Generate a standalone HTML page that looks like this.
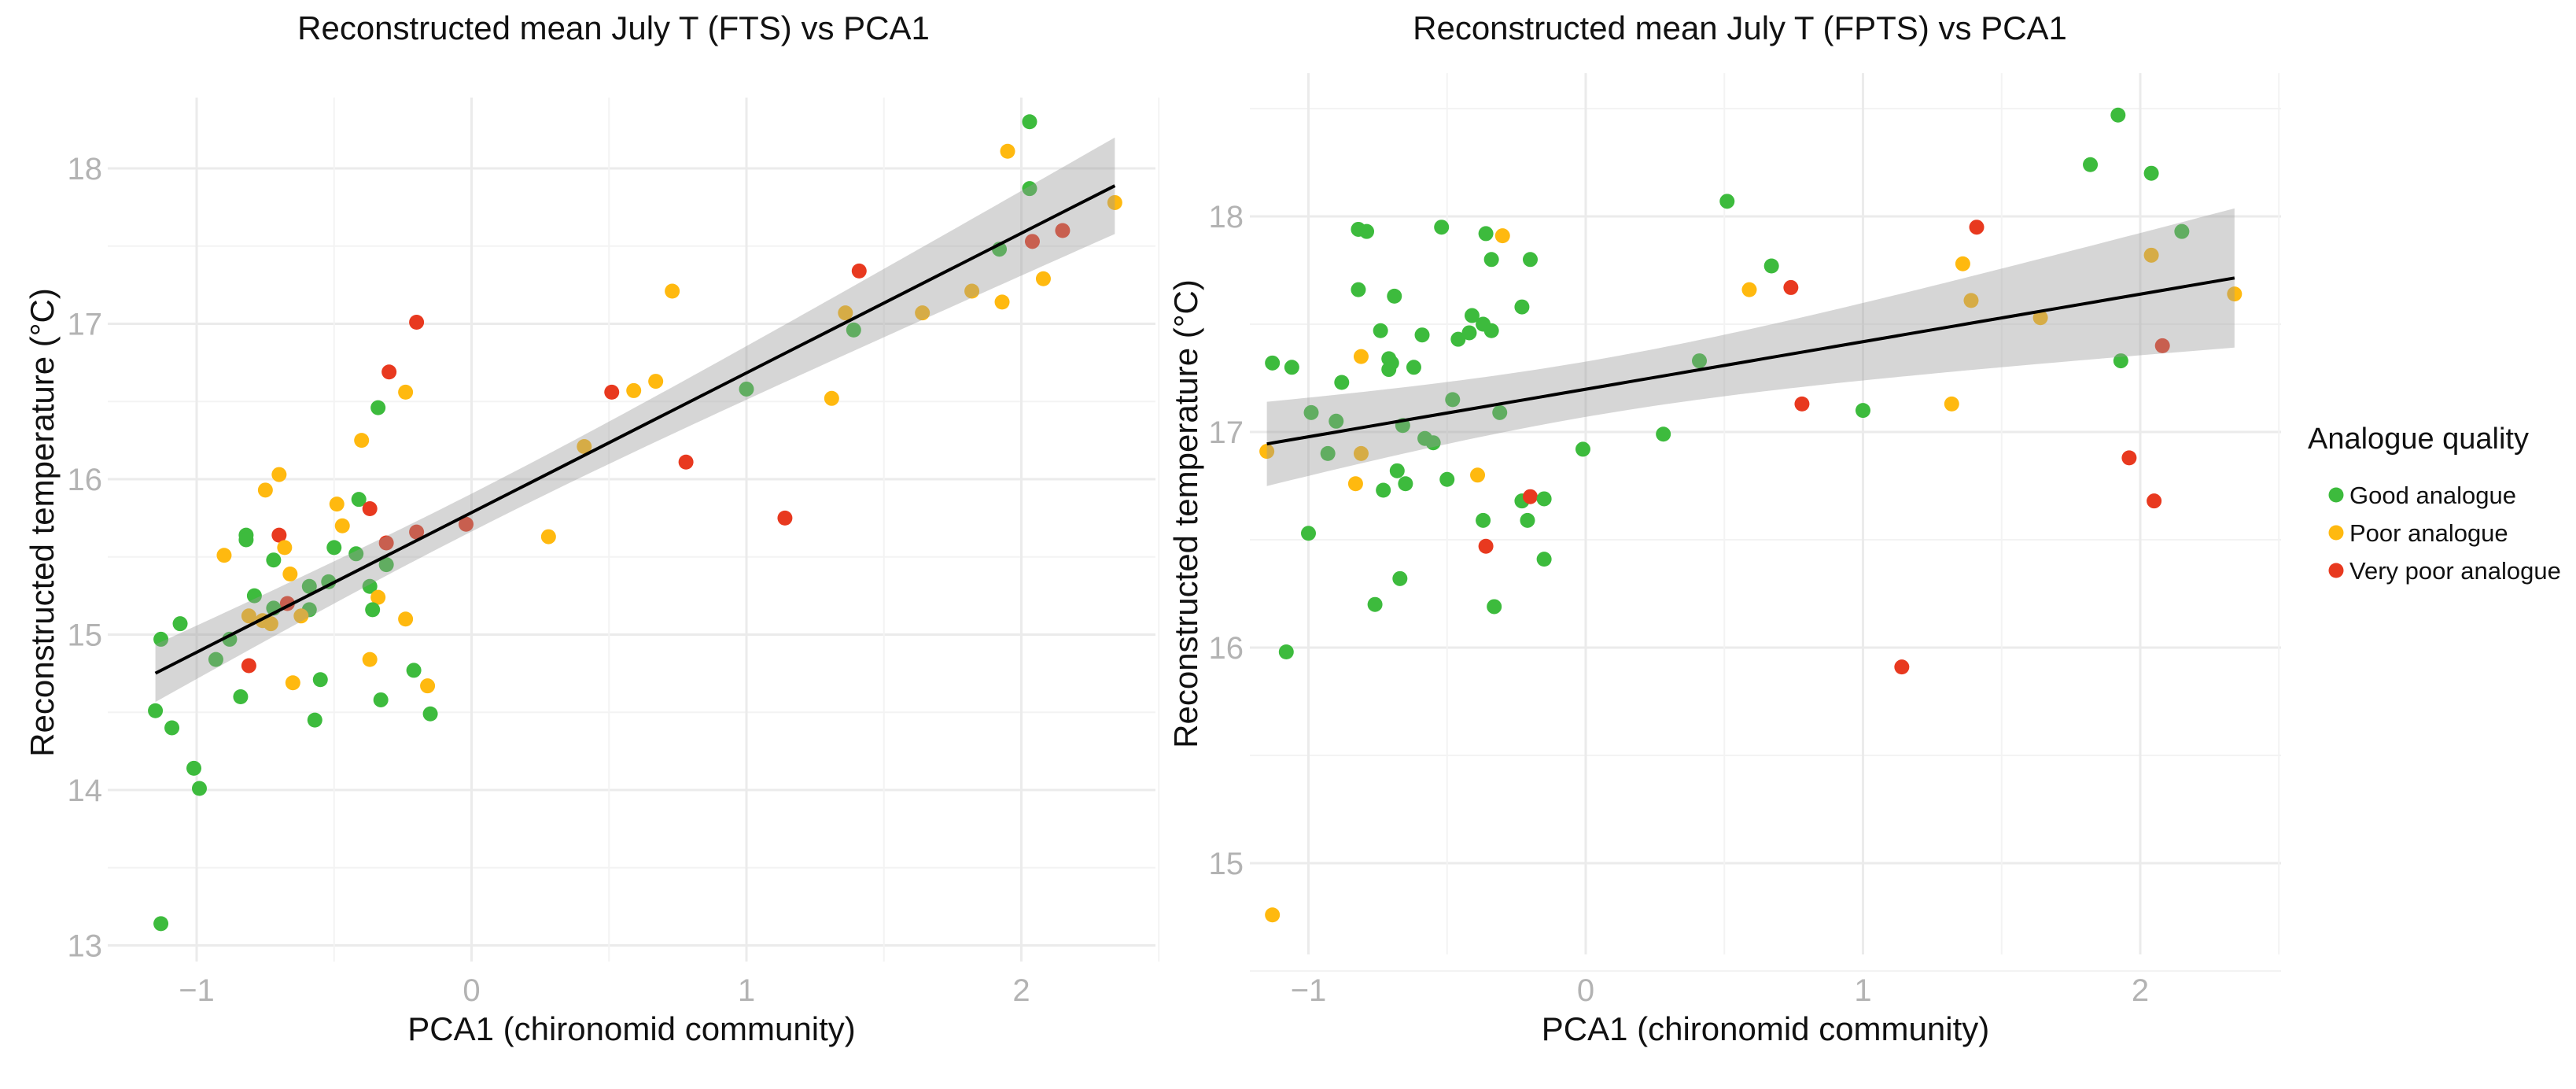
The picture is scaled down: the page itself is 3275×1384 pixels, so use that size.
<!DOCTYPE html>
<html><head><meta charset="utf-8"><style>
html,body{margin:0;padding:0;background:#fff;}
svg{display:block;font-family:"Liberation Sans",Arial,sans-serif;}
</style></head><body>
<svg id="chart" width="3275" height="1384" viewBox="0 0 3275 1384" xmlns="http://www.w3.org/2000/svg">
<rect x="0" y="0" width="3275" height="1384" fill="#fff"/>
</svg>
<script>
// ---- Left panel data (FTS) ----
const ftsX = [2.03,1.95,2.03,2.34,2.15,2.04,1.92,2.08,1.41,1.82,1.93,1.36,1.64,1.39,0.73,1.31,1.00,0.51,0.59,0.67,0.78,0.41,1.14,0.28,-0.02,-0.20,-0.30,-0.24,-0.34,-0.40,-0.41,-0.37,-0.49,-0.47,-0.70,-0.75,-0.70,-0.82,-0.82,-0.68,-0.90,-0.72,-0.50,-0.42,-0.31,-0.20,-0.31,-0.66,-0.52,-0.59,-0.37,-0.34,-0.79,-0.67,-0.72,-0.59,-0.36,-0.81,-0.62,-0.76,-0.73,-0.24,-1.06,-1.13,-0.88,-0.93,-0.37,-0.81,-0.21,-0.55,-0.65,-0.16,-0.84,-0.33,-1.15,-0.15,-0.57,-1.09,-1.01,-0.99,-1.13];
const ftsY = [18.30,18.11,17.87,17.78,17.60,17.53,17.48,17.29,17.34,17.21,17.14,17.07,17.07,16.96,17.21,16.52,16.58,16.56,16.57,16.63,16.11,16.21,15.75,15.63,15.71,17.01,16.69,16.56,16.46,16.25,15.87,15.81,15.84,15.70,16.03,15.93,15.64,15.64,15.61,15.56,15.51,15.48,15.56,15.52,15.59,15.66,15.45,15.39,15.34,15.31,15.31,15.24,15.25,15.20,15.17,15.16,15.16,15.12,15.12,15.09,15.07,15.10,15.07,14.97,14.97,14.84,14.84,14.80,14.77,14.71,14.69,14.67,14.60,14.58,14.51,14.49,14.45,14.40,14.14,14.01,13.14];
const ftsQ = "gygyrrgyry" + "yyygyygryy" + "ryryrrrygy" + "gryyyyrggy" + "ygggrrgygg" + "gygrgggyyy" + "yyggggyrgg" + "yyggggggggg";
const ftsYTicks = [13,14,15,16,17,18];
const ftsXTicks = [-1,0,1,2];

// ---- Right panel data (FPTS) ----
const fptsX = [1.92,1.82,2.04,0.51,2.15,1.41,2.04,1.36,0.67,0.74,0.59,2.34,1.39,1.64,2.08,1.93,0.41,1.32,0.78,1.00,0.28,-0.01,1.96,2.05,1.14,-1.13,-1.15,-1.13,-1.06,-1.08,-1.00,-0.99,-0.93,-0.90,-0.88,-0.81,-0.81,-0.83,-0.82,-0.79,-0.82,-0.74,-0.69,-0.71,-0.70,-0.71,-0.62,-0.66,-0.68,-0.73,-0.65,-0.67,-0.76,-0.59,-0.58,-0.55,-0.52,-0.48,-0.50,-0.46,-0.42,-0.41,-0.37,-0.34,-0.36,-0.34,-0.30,-0.31,-0.39,-0.37,-0.36,-0.33,-0.23,-0.20,-0.23,-0.20,-0.15,-0.21,-0.15];
const fptsY = [18.47,18.24,18.20,18.07,17.93,17.95,17.82,17.78,17.77,17.67,17.66,17.64,17.61,17.53,17.40,17.33,17.33,17.13,17.13,17.10,16.99,16.92,16.88,16.68,15.91,14.76,16.91,17.32,17.30,15.98,16.53,17.09,16.90,17.05,17.23,17.35,16.90,16.76,17.94,17.93,17.66,17.47,17.63,17.34,17.32,17.29,17.30,17.03,16.82,16.73,16.76,16.32,16.20,17.45,16.97,16.95,17.95,17.15,16.78,17.43,17.46,17.54,17.50,17.47,17.92,17.80,17.91,17.09,16.80,16.59,16.47,16.19,17.58,17.80,16.68,16.70,16.69,16.59,16.41];
const fptsQ = "gggggryygr" + "yyyyrggyrg" + "ggrrryyggg" + "gggggyyygg" + "gggggggggg" + "gggggggggg" + "ggggggygyg" + "rggggrggg";
const fptsYTicks = [15,16,17,18];
const fptsXTicks = [-1,0,1,2];

const legendLabels = ["Good analogue","Poor analogue","Very poor analogue"];
const COLORS = {g:"#3DBB3D", y:"#FFB90F", r:"#E8391F"};

const NS = "http://www.w3.org/2000/svg";
const svg = document.getElementById("chart");
function mk(tag, attrs, parent){
  const e = document.createElementNS(NS, tag);
  for (const k in attrs) e.setAttribute(k, attrs[k]);
  (parent||svg).appendChild(e);
  return e;
}

function regress(xs, ys){
  const n = xs.length;
  let mx=0,my=0; for(let i=0;i<n;i++){mx+=xs[i];my+=ys[i];} mx/=n; my/=n;
  let sxx=0,sxy=0; for(let i=0;i<n;i++){sxx+=(xs[i]-mx)**2; sxy+=(xs[i]-mx)*(ys[i]-my);}
  const b = sxy/sxx, a = my-b*mx;
  let sse=0; for(let i=0;i<n;i++){sse+=(ys[i]-a-b*xs[i])**2;}
  const s = Math.sqrt(sse/(n-2));
  return {a,b,s,n,mx,sxx};
}

function panel(cfg){
  const g = mk("g",{});
  
  
  const sx = v => cfg.x0 + v*cfg.xu;
  const sy = v => cfg.yTop + (cfg.yTopVal - v)*cfg.yu;
  for (let v = cfg.yMin; v <= cfg.yMax+1e-9; v += 0.5){
    const major = Math.abs(v-Math.round(v))<1e-9;
    const l = mk("line",{x1:cfg.L,x2:cfg.R,y1:sy(v),y2:sy(v),stroke:major?"#ebebeb":"#f3f3f3","stroke-width":major?3:2},g);
    
    
  }
  for (let v = cfg.xMin; v <= cfg.xMax+1e-9; v += 0.5){
    const major = Math.abs(v-Math.round(v))<1e-9;
    const l = mk("line",{x1:sx(v),x2:sx(v),y1:cfg.T,y2:cfg.B,stroke:major?"#ebebeb":"#f3f3f3","stroke-width":major?3:2},g);
    
    
  }
  cfg.yTicks.forEach(v=>{
    const t = mk("text",{x:cfg.yLabX,y:sy(v)+14,"text-anchor":"end","font-size":40,fill:"#b3b3b3"},g);
    t.textContent = String(v);
    
    
  });
  cfg.xTicks.forEach(v=>{
    const t = mk("text",{x:sx(v),y:cfg.xLabY,"text-anchor":"middle","font-size":40,fill:"#b3b3b3"},g);
    t.textContent = v<0 ? "\u2212"+Math.abs(v) : String(v);
    
    
  });
  for (let i=0;i<cfg.xs.length;i++){
    const c = mk("circle",{cx:sx(cfg.xs[i]),cy:sy(cfg.ys[i]),r:9.5,fill:COLORS[cfg.q[i]]||COLORS.g},g);
    
    
  }
  const R = regress(cfg.xs, cfg.ys);
  let xmin=Math.min(...cfg.xs), xmax=Math.max(...cfg.xs);
  const N=80, up=[], lo=[], mid=[];
  for(let k=0;k<=N;k++){
    const x = xmin + (xmax-xmin)*k/N;
    const yh = R.a + R.b*x;
    const hw = 1.99*R.s*Math.sqrt(1/R.n + (x-R.mx)**2/R.sxx);
    up.push(sx(x)+","+sy(yh+hw)); lo.push(sx(x)+","+sy(yh-hw)); mid.push(sx(x)+","+sy(yh));
  }
  const band = mk("polygon",{points:up.concat(lo.reverse()).join(" "),fill:"rgba(153,153,153,0.4)"},g);
  
  
  const line = mk("polyline",{points:mid.join(" "),fill:"none",stroke:"#000","stroke-width":4},g);
  
  
  const ti = mk("text",{x:cfg.titleX,y:50,"text-anchor":"middle","font-size":42,fill:"#111"},g);
  ti.textContent = cfg.title;
  
  
  const xt = mk("text",{x:(cfg.L+cfg.R)/2,y:1322,"text-anchor":"middle","font-size":42,fill:"#111"},g);
  xt.textContent = "PCA1 (chironomid community)";
  
  
  const yt = mk("text",{x:0,y:0,"text-anchor":"middle","font-size":42,fill:"#111",transform:`translate(${cfg.yTitleX},${cfg.yTitleY}) rotate(-90)`},g);
  yt.textContent = "Reconstructed temperature (\u00B0C)";
  
  
}

panel({name:"fts-panel", xs:ftsX, ys:ftsY, q:ftsQ, yTicks:ftsYTicks, xTicks:ftsXTicks,
  x0:599.5, xu:349.5, yTop:214, yTopVal:18, yu:197.5,
  L:137, R:1469, T:124, B:1222, yMin:13, yMax:18, xMin:-1, xMax:2.5,
  yLabX:130, xLabY:1272, titleX:780, yTitleX:68, yTitleY:664,
  title:"Reconstructed mean July T (FTS) vs PCA1"});
panel({name:"fpts-panel", xs:fptsX, ys:fptsY, q:fptsQ, yTicks:fptsYTicks, xTicks:fptsXTicks,
  x0:2016, xu:352.5, yTop:275, yTopVal:18, yu:274,
  L:1589, R:2900, T:93, B:1213, yMin:14.5, yMax:18.5, xMin:-1, xMax:2.5,
  yLabX:1581, xLabY:1272, titleX:2212, yTitleX:1522, yTitleY:653,
  title:"Reconstructed mean July T (FPTS) vs PCA1"});

const lg = mk("g",{});


const lt = mk("text",{x:2934,y:570,"font-size":38,fill:"#111"},lg);
lt.textContent = "Analogue quality";


["g","y","r"].forEach((k,i)=>{
  const cy = 629 + i*48;
  const c = mk("circle",{cx:2970,cy:cy,r:9.5,fill:COLORS[k]},lg);
  
  
  const t = mk("text",{x:2987,y:cy+11,"font-size":31,fill:"#111"},lg);
  t.textContent = legendLabels[i];
  
  
});
</script>
</body></html>
